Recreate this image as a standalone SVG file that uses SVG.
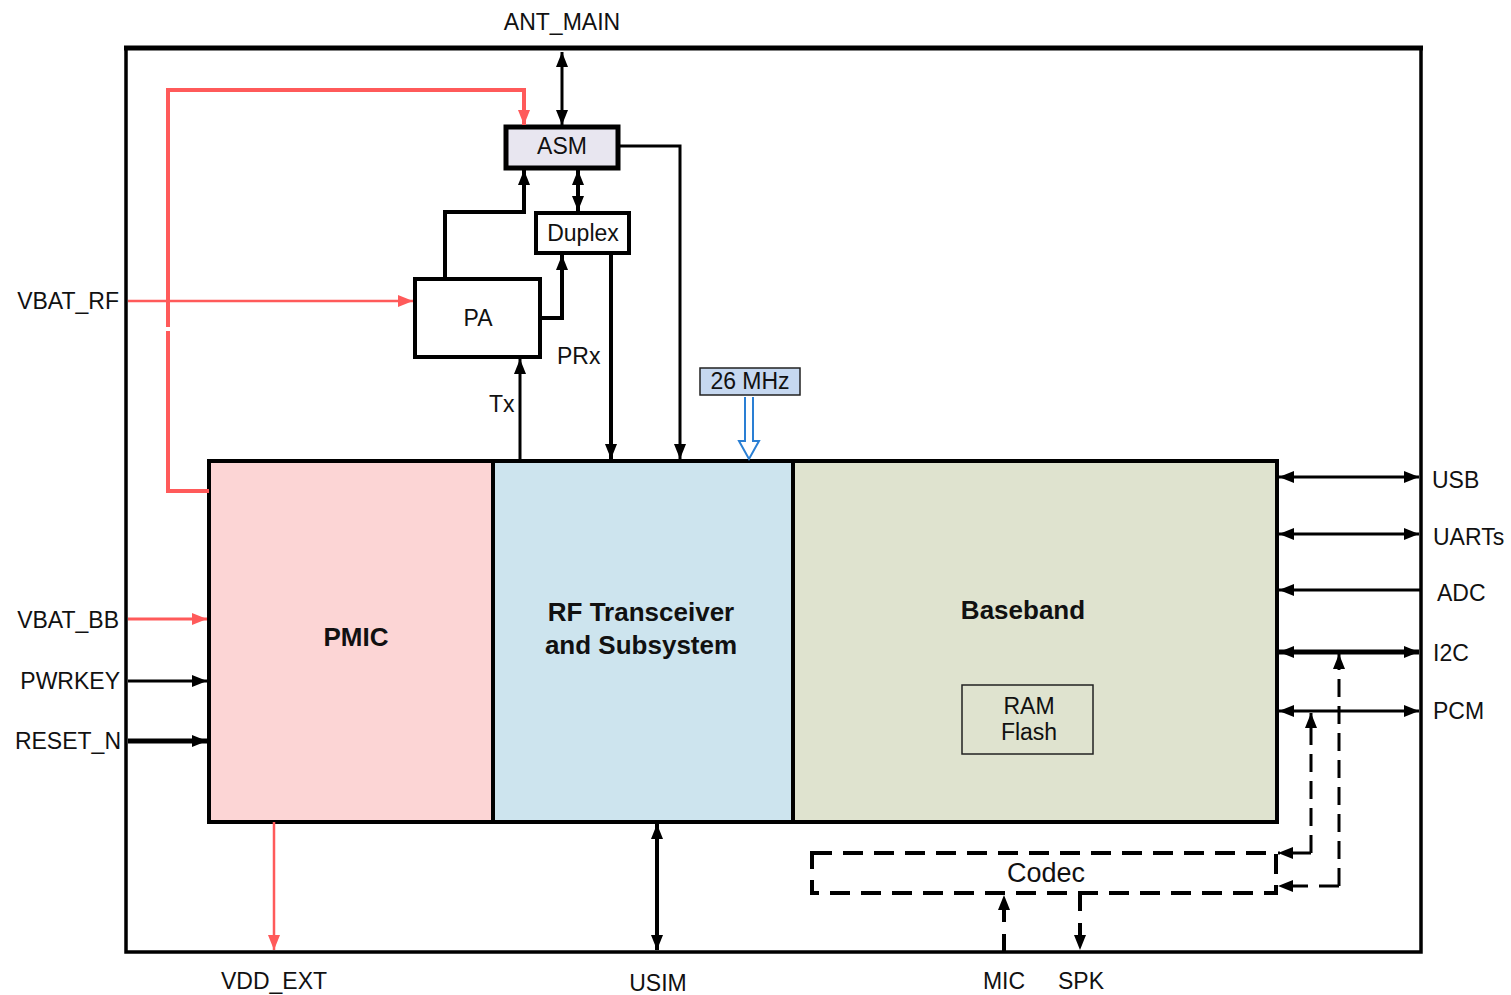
<svg xmlns="http://www.w3.org/2000/svg" width="1511" height="995" viewBox="0 0 1511 995">
<style>
text{font-family:"Liberation Sans",Arial,sans-serif;fill:#111;font-size:23px}
.b{font-weight:bold;font-size:26px}
.m{text-anchor:middle}
.e{text-anchor:end}
.k{fill:none;stroke:#000;stroke-linejoin:miter}
.r{fill:none;stroke:#ff5a5a}
.d{fill:none;stroke:#000;stroke-dasharray:20 11}
</style>
<defs>
<marker id="ab" markerUnits="userSpaceOnUse" markerWidth="16" markerHeight="12" refX="15" refY="6" orient="auto-start-reverse"><path d="M0,0 L15,6 L0,12 z" fill="#000"/></marker>
<marker id="ar" markerUnits="userSpaceOnUse" markerWidth="16" markerHeight="12" refX="15" refY="6" orient="auto"><path d="M0,0 L15,6 L0,12 z" fill="#ff5a5a"/></marker>
</defs>

<g id="frame">
<rect x="126" y="48" width="1295" height="904" fill="none" stroke="#000" stroke-width="3.5"/>
<path d="M124,48 H1423" stroke="#000" stroke-width="5"/>
</g>

<g id="pmic"><rect x="209" y="461" width="284" height="361" fill="#fcd5d5" stroke="#000" stroke-width="4"/><text class="b m" x="356" y="646">PMIC</text></g>
<g id="rf"><rect x="493" y="461" width="300" height="361" fill="#cde4ee" stroke="#000" stroke-width="4"/><text class="b m" x="641" y="621">RF Transceiver</text><text class="b m" x="641" y="654">and Subsystem</text></g>
<g id="baseband"><rect x="793" y="461" width="484" height="361" fill="#dfe3cf" stroke="#000" stroke-width="4"/><text class="b m" x="1023" y="619">Baseband</text></g>
<g id="ramflash"><rect x="962" y="685" width="131" height="69" fill="#dfe3cf" stroke="#222" stroke-width="1.5"/><text class="m" x="1029" y="714">RAM</text><text class="m" x="1029" y="740">Flash</text></g>
<g id="asm"><rect x="506" y="127" width="112" height="41" fill="#e8e6f0" stroke="#000" stroke-width="5"/><text class="m" x="562" y="154">ASM</text></g>
<g id="duplex"><rect x="536" y="213" width="93" height="40" fill="#fff" stroke="#000" stroke-width="4"/><text class="m" x="583" y="241">Duplex</text></g>
<g id="pa"><rect x="415" y="279" width="125" height="78" fill="#fff" stroke="#000" stroke-width="4"/><text class="m" x="478" y="326">PA</text></g>
<g id="osc"><rect x="700" y="368" width="100" height="27" fill="#c6d8f0" stroke="#222" stroke-width="1.5"/><text class="m" x="750" y="389">26 MHz</text></g>
<g id="codec"><rect x="812" y="853" width="464" height="40" class="d" stroke-width="4"/><text class="m" x="1046" y="882" style="font-size:27px">Codec</text></g>

<g id="connectors">
<path class="k" stroke-width="3" d="M562,52 V125" marker-start="url(#ab)" marker-end="url(#ab)"/>
<path class="r" stroke-width="4" d="M209,491 H168 V331"/>
<path class="r" stroke-width="4" d="M168,327 V90 H524 V125" marker-end="url(#ar)"/>
<path class="r" stroke-width="2.5" d="M128,301 H413" marker-end="url(#ar)"/>
<path class="k" stroke-width="4" d="M445,279 V212 H524 V170" marker-end="url(#ab)"/>
<path class="k" stroke-width="4" d="M540,318 H562 V255" marker-end="url(#ab)"/>
<path class="k" stroke-width="4" d="M578,170 V211" marker-start="url(#ab)" marker-end="url(#ab)"/>
<path class="k" stroke-width="3" d="M618,146 H680 V459" marker-end="url(#ab)"/>
<path class="k" stroke-width="4" d="M611,253 V459" marker-end="url(#ab)"/>
<path class="k" stroke-width="3" d="M520,461 V359" marker-end="url(#ab)"/>
<path d="M745,397 V441 H739 L749,459 L759,441 H753 V397" fill="#fff" stroke="#2a7fd4" stroke-width="2"/>
<path class="k" stroke-width="3" d="M1279,477 H1419" marker-start="url(#ab)" marker-end="url(#ab)"/>
<path class="k" stroke-width="3" d="M1279,534 H1419" marker-start="url(#ab)" marker-end="url(#ab)"/>
<path class="k" stroke-width="3" d="M1421,590 H1279" marker-end="url(#ab)"/>
<path class="k" stroke-width="5" d="M1279,652 H1419" marker-start="url(#ab)" marker-end="url(#ab)"/>
<path class="k" stroke-width="3" d="M1279,711 H1419" marker-start="url(#ab)" marker-end="url(#ab)"/>
<path class="d" stroke-width="3" style="stroke-dasharray:18 9" d="M1311,853 V713" marker-end="url(#ab)"/>
<path class="d" stroke-width="3" d="M1311,853 H1278" marker-end="url(#ab)"/>
<path class="d" stroke-width="3" style="stroke-dasharray:18 9" d="M1339,886 V654" marker-end="url(#ab)"/>
<path class="d" stroke-width="3" d="M1339,886 H1278" marker-end="url(#ab)"/>
<path class="d" stroke-width="4" style="stroke-dasharray:18 12" d="M1004,952 V895" marker-end="url(#ab)"/>
<path class="d" stroke-width="4" style="stroke-dasharray:18 12" d="M1080,893 V950" marker-end="url(#ab)"/>
<path class="k" stroke-width="4" d="M657,824 V950" marker-start="url(#ab)" marker-end="url(#ab)"/>
<path class="r" stroke-width="2.5" d="M274,822 V950" marker-end="url(#ar)"/>
<path class="r" stroke-width="3" d="M128,619 H207" marker-end="url(#ar)"/>
<path class="k" stroke-width="3" d="M128,681 H207" marker-end="url(#ab)"/>
<path class="k" stroke-width="5" d="M128,741 H207" marker-end="url(#ab)"/>
</g>

<g id="labels">
<text class="m" x="562" y="30">ANT_MAIN</text>
<text class="e" x="119" y="309">VBAT_RF</text>
<text class="e" x="119" y="628">VBAT_BB</text>
<text class="e" x="120" y="689">PWRKEY</text>
<text class="e" x="121" y="749">RESET_N</text>
<text x="557" y="364">PRx</text>
<text x="489" y="412">Tx</text>
<text x="1432" y="488">USB</text>
<text x="1433" y="545">UARTs</text>
<text x="1437" y="601">ADC</text>
<text x="1433" y="661">I2C</text>
<text x="1433" y="719">PCM</text>
<text class="m" x="274" y="989">VDD_EXT</text>
<text class="m" x="658" y="991">USIM</text>
<text class="m" x="1004" y="989">MIC</text>
<text class="m" x="1081" y="989">SPK</text>
</g>
</svg>
